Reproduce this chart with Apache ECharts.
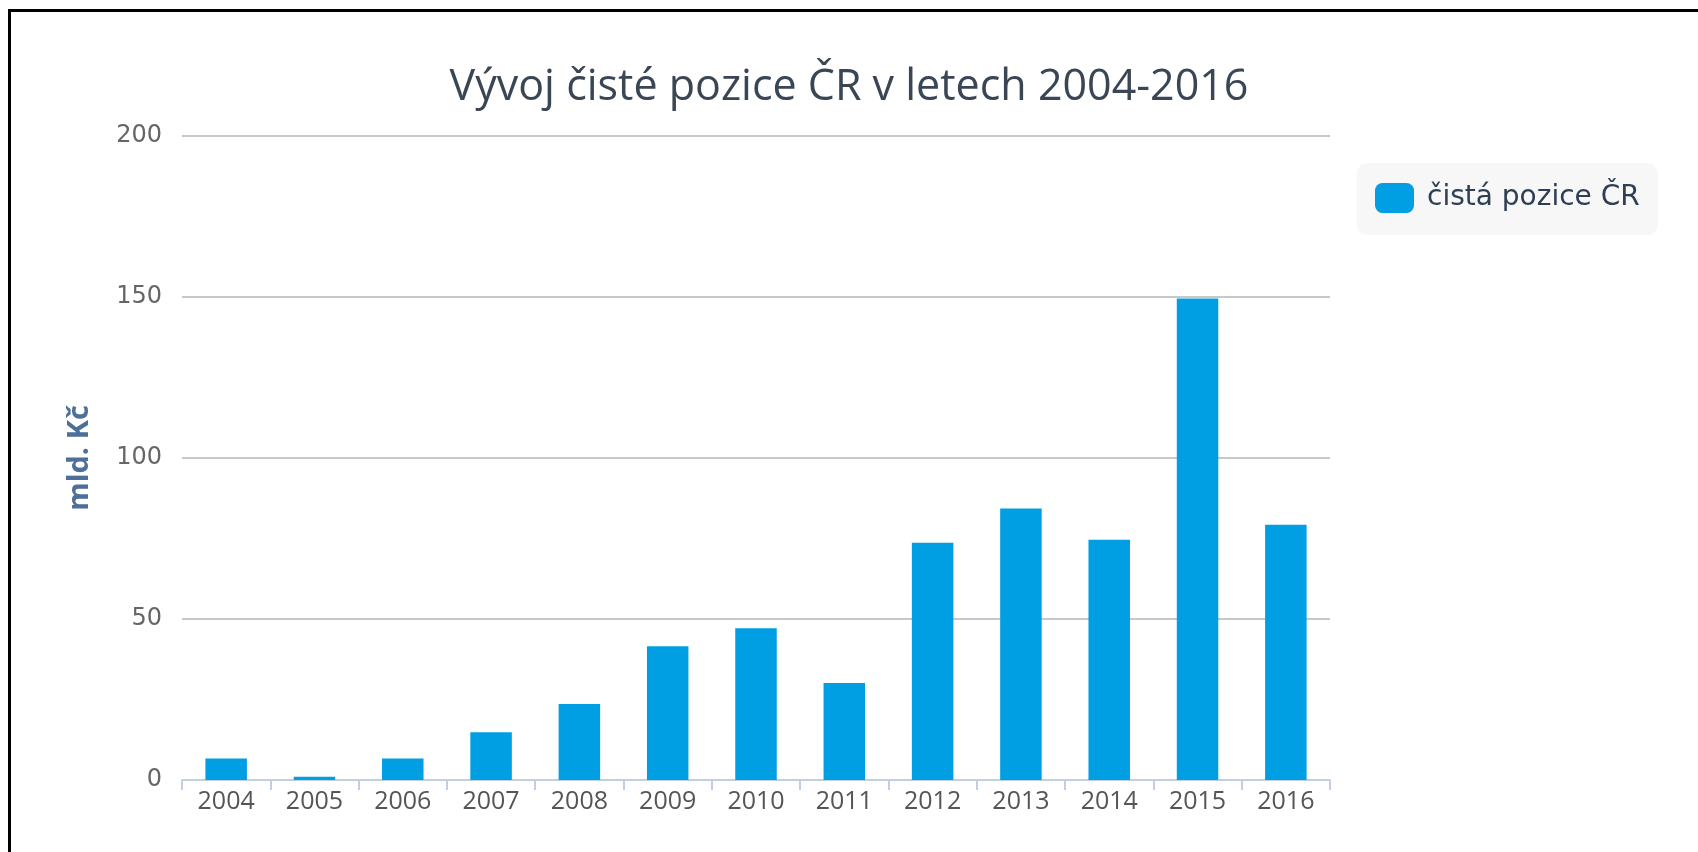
<!DOCTYPE html>
<html>
<head>
<meta charset="utf-8">
<script src="https://cdn.jsdelivr.net/npm/echarts@6/dist/echarts.min.js"></script>
<style>
  html, body { margin: 0; padding: 0; background: #fff; }
  #chart { width: 1698px; height: 852px; }
  #frame {
    position: absolute; left: 8px; top: 9px; right: 0; bottom: 0;
    border-top: 3px solid #000; border-left: 3px solid #000;
    pointer-events: none;
  }
</style>
</head>
<body>
<div id="chart"></div>
<div id="frame"></div>
<script>
// ---- Data ----
const years = ['2004', '2005', '2006', '2007', '2008', '2009', '2010',
               '2011', '2012', '2013', '2014', '2015', '2016'];
const netPosition = [6.7, 1, 6.7, 14.8, 23.6, 41.5, 47.1, 30.1, 73.7, 84.3, 74.6, 149.5, 79.3];
const yTicks = [0, 50, 100, 150, 200];

const chart = echarts.init(document.getElementById('chart'));
const font = '"Open Sans", "DejaVu Sans", sans-serif';
const wideFont = '"DejaVu Sans", Verdana, sans-serif';

const option = {
  animation: false,
  title: {
    text: 'Vývoj čisté pozice ČR v letech 2004-2016',
    left: 'center',
    top: 61,
    textStyle: { fontFamily: font, fontSize: 43, fontWeight: 'normal', color: '#3a4654' }
  },
  legend: {
    data: ['čistá pozice ČR'],
    left: 1357,
    top: 163,
    orient: 'vertical',
    backgroundColor: '#f7f7f7',
    borderRadius: 10,
    padding: [20, 18, 22, 18],
    itemWidth: 39,
    itemHeight: 30,
    icon: 'roundRect',
    textStyle: { fontFamily: wideFont, fontSize: 28, color: '#2e3f55', padding: [0, 0, 0, 8] }
  },
  grid: { left: 182, right: 368, top: 136, bottom: 72, containLabel: false },
  xAxis: {
    type: 'category',
    data: years,
    axisLine: { lineStyle: { color: '#c0d0e0', width: 2 } },
    axisTick: { show: true, length: 10, lineStyle: { color: '#c0d0e0', width: 2 } },
    axisLabel: { fontFamily: font, fontSize: 25, color: '#555', margin: 9 },
    splitLine: { show: false }
  },
  yAxis: {
    type: 'value',
    min: yTicks[0],
    max: yTicks[yTicks.length - 1],
    interval: 50,
    name: 'mld. Kč',
    nameLocation: 'middle',
    nameRotate: 90,
    nameGap: 88,
    nameTextStyle: { fontFamily: font, fontSize: 29, fontWeight: 'bold', color: '#4d6f9a' },
    axisLine: { show: false },
    axisTick: { show: false },
    axisLabel: { fontFamily: wideFont, fontSize: 24, color: '#666', margin: 20, padding: [6, 0, 0, 0] },
    splitLine: { lineStyle: { color: '#c8c8c8', width: 2 } }
  },
  series: [
    {
      name: 'čistá pozice ČR',
      type: 'bar',
      data: netPosition,
      barWidth: '47%',
      itemStyle: { color: '#009fe3' }
    }
  ]
};

chart.setOption(option);
</script>
</body>
</html>
